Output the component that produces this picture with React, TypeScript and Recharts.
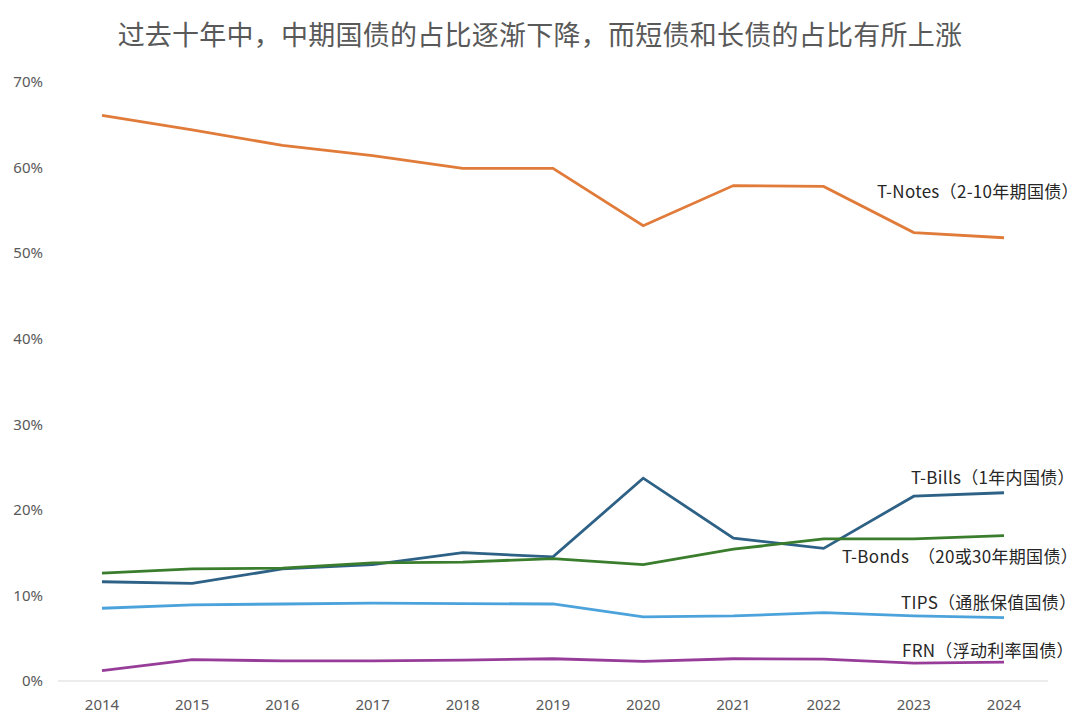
import React from 'react';
import { LineChart, Line, XAxis, YAxis, LabelList } from 'recharts';

if (typeof document !== 'undefined') {
  document.body.style.margin = '0';
}

const years = ['2014', '2015', '2016', '2017', '2018', '2019', '2020', '2021', '2022', '2023', '2024'];
const tNotes = [66.1, 64.4, 62.6, 61.4, 59.9, 59.9, 53.2, 57.9, 57.8, 52.4, 51.8];
const tBills = [11.6, 11.4, 13.1, 13.6, 15.0, 14.5, 23.7, 16.7, 15.5, 21.6, 22.0];
const tBonds = [12.6, 13.1, 13.2, 13.8, 13.9, 14.3, 13.6, 15.4, 16.6, 16.6, 17.0];
const tips = [8.5, 8.9, 9.0, 9.1, 9.05, 9.0, 7.5, 7.6, 8.0, 7.6, 7.4];
const frn = [1.2, 2.5, 2.35, 2.35, 2.45, 2.6, 2.3, 2.6, 2.55, 2.1, 2.2];
const yTicks = [0, 10, 20, 30, 40, 50, 60, 70];

const title = '过去十年中，中期国债的占比逐渐下降，而短债和长债的占比有所上涨';

const data = years.map((y, i) => ({
  year: y,
  tNotes: tNotes[i],
  tBills: tBills[i],
  tBonds: tBonds[i],
  tips: tips[i],
  frn: frn[i],
}));

const FONT = '"Noto Sans CJK SC", "Noto Sans", sans-serif';

const series = [
  { key: 'tNotes', color: '#E07B3A', label: 'T-Notes（2-10年期国债）', dx: -127, dy: -47 },
  { key: 'tBills', color: '#2E6186', label: 'T-Bills（1年内国债）', dx: -93, dy: -16 },
  { key: 'tBonds', color: '#3A7D2C', label: 'T-Bonds　（20或30年期国债）', dx: -162, dy: 20 },
  { key: 'tips', color: '#4CA3DB', label: 'TIPS（通胀保值国债）', dx: -103, dy: -16 },
  { key: 'frn', color: '#973D99', label: 'FRN（浮动利率国债）', dx: -102, dy: -13 },
];

const makeLabel = (text: string, dx: number, dy: number) => (props: any) => {
  const { x, y, index } = props;
  if (index !== years.length - 1) return null;
  return (
    <text
      x={x + dx}
      y={y + dy}
      fontSize={17}
      letterSpacing={0.3}
      fontFamily={FONT}
      fill="#262626"
      textAnchor="start"
      dominantBaseline="central"
    >
      {text}
    </text>
  );
};

export default function App() {
  return (
    <div style={{ width: 1080, height: 724, background: '#fff', position: 'relative', fontFamily: FONT }}>
      <div
        style={{
          position: 'absolute',
          top: 16,
          left: 0,
          width: 1080,
          textAlign: 'center',
          fontSize: 27,
          color: '#595959',
          fontFamily: FONT,
          lineHeight: '36px',
          letterSpacing: 0.25,
        }}
      >
        {title}
      </div>
      <LineChart
        width={1080}
        height={724}
        data={data}
        margin={{ top: 82, right: 32, bottom: 0, left: 0 }}
      >
        <XAxis
          dataKey="year"
          height={43}
          padding={{ left: 44, right: 44 }}
          tickLine={false}
          tickSize={0}
          tickMargin={18}
          axisLine={{ stroke: '#D9D9D9', strokeWidth: 1 }}
          tick={{ fontSize: 15, fill: '#595959', fontFamily: '"Noto Sans", sans-serif' }}
          interval={0}
        />
        <YAxis
          width={58}
          domain={[0, 70]}
          ticks={yTicks}
          tickFormatter={(v: number) => `${v}%`}
          axisLine={false}
          tickLine={false}
          tickSize={0}
          tickMargin={15}
          tick={{ fontSize: 15, fill: '#595959', fontFamily: '"Noto Sans", sans-serif' }}
          interval={0}
        />
        {series.map((s) => (
          <Line
            key={s.key}
            type="linear"
            dataKey={s.key}
            stroke={s.color}
            strokeWidth={2.8}
            dot={false}
            activeDot={false}
            isAnimationActive={false}
          >
            <LabelList dataKey={s.key} content={makeLabel(s.label, s.dx, s.dy)} />
          </Line>
        ))}
      </LineChart>
    </div>
  );
}
